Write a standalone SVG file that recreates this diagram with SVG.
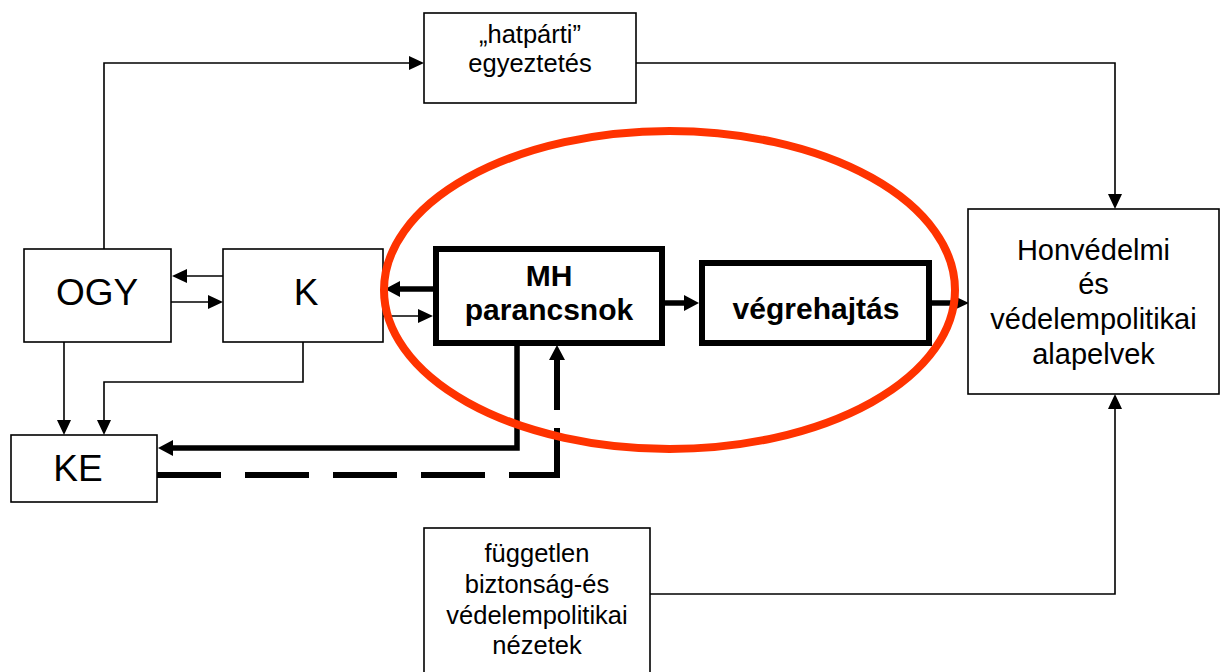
<svg xmlns="http://www.w3.org/2000/svg" width="1220" height="672" viewBox="0 0 1220 672">
  <style>
    .box { fill: #ffffff; stroke: #000000; stroke-width: 1.6; }
    .bold-box { fill: #ffffff; stroke: #000000; stroke-width: 6; }
    .thin { fill: none; stroke: #000000; stroke-width: 1.6; }
    .thick { fill: none; stroke: #000000; stroke-width: 5.5; }
    .dashed { fill: none; stroke: #000000; stroke-width: 6; stroke-dasharray: 64 24 64 24 64 24 64 24 95 18 60; }
    text { font-family: "Liberation Sans", Arial, sans-serif; fill: #000000; text-anchor: middle; }
    .big { font-size: 37px; }
    .mid { font-size: 29px; }
    .small { font-size: 25.5px; }
    .bold { font-size: 30px; font-weight: bold; }
  </style>
  <defs>
    <marker id="arrow-thin" markerUnits="userSpaceOnUse" markerWidth="15" markerHeight="14" refX="0" refY="7" orient="auto">
      <path d="M0,0 L15,7 L0,14 z" fill="#000000"/>
    </marker>
    <marker id="arrow-thick" markerUnits="userSpaceOnUse" markerWidth="15" markerHeight="16" refX="0" refY="8" orient="auto">
      <path d="M0,0 L15,8 L0,16 z" fill="#000000"/>
    </marker>
  </defs>

  <rect width="1220" height="672" fill="#ffffff"/>

  <!-- connectors -->
  <g id="connectors">
    <path class="thin" d="M104,249 V63 H409" marker-end="url(#arrow-thin)"/>
    <path class="thin" d="M636,63 H1115 V194" marker-end="url(#arrow-thin)"/>
    <path class="thin" d="M650,594 H1115 V409" marker-end="url(#arrow-thin)"/>
    <path class="thin" d="M223,276 H187" marker-end="url(#arrow-thin)"/>
    <path class="thin" d="M171,302 H208" marker-end="url(#arrow-thin)"/>
    <path class="thin" d="M383,316 H418" marker-end="url(#arrow-thin)"/>
    <path class="thin" d="M64,342 V420" marker-end="url(#arrow-thin)"/>
    <path class="thin" d="M303,342 V382 H104 V420" marker-end="url(#arrow-thin)"/>
    <path class="thick" d="M433,289 H400" marker-end="url(#arrow-thick)"/>
    <path class="thick" d="M662,303 H684" marker-end="url(#arrow-thick)"/>
    <path class="thick" d="M929,303 H954" marker-end="url(#arrow-thin)"/>
    <path class="thick" d="M517,343 V448 H173" marker-end="url(#arrow-thick)"/>
    <path class="dashed" d="M157,475 H557 V360" marker-end="url(#arrow-thick)"/>
  </g>

  <g id="node-ogy">
    <rect class="box" x="24" y="249" width="147" height="93"/>
    <text class="big" x="97" y="305">OGY</text>
  </g>

  <g id="node-k">
    <rect class="box" x="223" y="249" width="160" height="93"/>
    <text class="big" x="306" y="305">K</text>
  </g>

  <g id="node-ke">
    <rect class="box" x="11" y="435" width="146" height="67"/>
    <text class="big" x="78" y="481">KE</text>
  </g>

  <g id="node-hatparti">
    <rect class="box" x="424" y="13" width="212" height="90"/>
    <text class="small" x="530" y="43">„hatpárti”</text>
    <text class="small" x="530" y="72">egyeztetés</text>
  </g>

  <g id="node-mh">
    <rect class="bold-box" x="436" y="249" width="226" height="94"/>
    <text class="bold" x="549" y="286">MH</text>
    <text class="bold" x="549" y="320">parancsnok</text>
  </g>

  <g id="node-vegrehajtas">
    <rect class="bold-box" x="702" y="263" width="227" height="80"/>
    <text class="bold" x="816" y="319">végrehajtás</text>
  </g>

  <g id="node-honvedelmi">
    <rect class="box" x="968" y="209" width="251" height="185"/>
    <text class="mid" x="1093.5" y="260">Honvédelmi</text>
    <text class="mid" x="1093.5" y="294">és</text>
    <text class="mid" x="1093.5" y="329">védelempolitikai</text>
    <text class="mid" x="1093.5" y="364">alapelvek</text>
  </g>

  <g id="node-fuggetlen">
    <rect class="box" x="424" y="528" width="226" height="160"/>
    <text class="small" x="537" y="562">független</text>
    <text class="small" x="537" y="593">biztonság-és</text>
    <text class="small" x="537" y="624">védelempolitikai</text>
    <text class="small" x="537" y="654">nézetek</text>
  </g>

  <!-- highlight around the command chain -->
  <ellipse id="highlight" cx="669.5" cy="290" rx="285.5" ry="159" fill="none" stroke="#ff3300" stroke-width="8"/>
</svg>
